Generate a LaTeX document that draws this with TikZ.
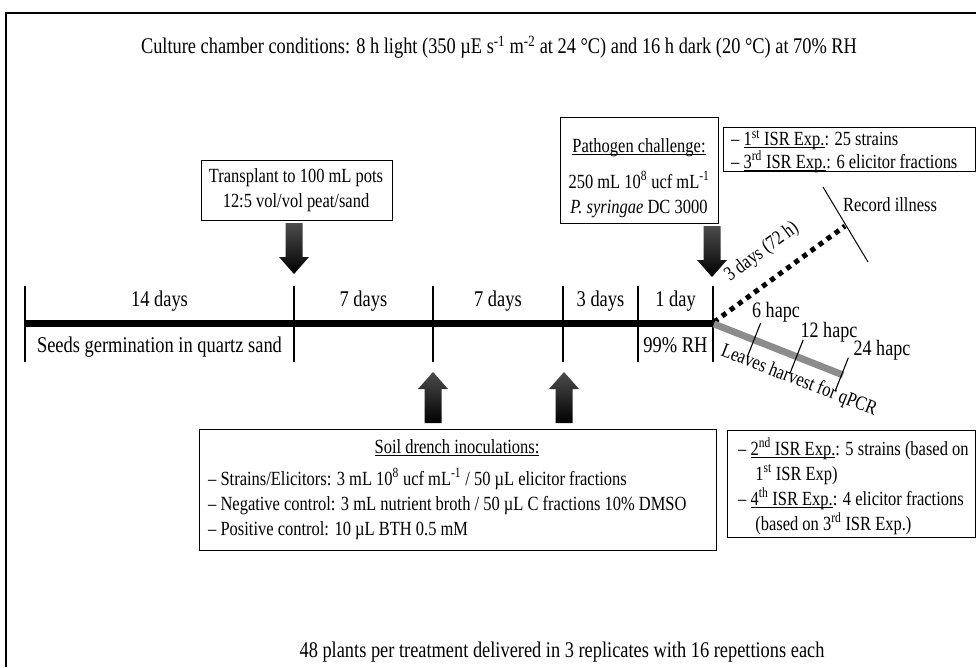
\documentclass[tikz,border=0pt]{standalone}
\usepackage{fontspec}
\setmainfont[FakeStretch=0.82]{Liberation Serif}
\usetikzlibrary{calc}
\newcommand\myul[1]{\setbox0\hbox{#1}\rlap{\rule[-2.3pt]{\wd0}{0.8pt}}\box0}
\begin{document}
\begin{tikzpicture}[x=1pt,y=-1pt,
  every node/.style={inner sep=0pt},
  big/.style={font=\fontsize{22.4}{26}\selectfont},
  lab/.style={font=\fontsize{22.5}{26}\selectfont},
  small/.style={font=\fontsize{20.1}{25}\selectfont},
  tickline/.style={line width=1.1pt},
  boxline/.style={draw, line width=1pt},
  blockarrow/.pic={\shade[top color=black!70, bottom color=black] (-8.5,-34) -- (8.5,-34) -- (8.5,0) -- (15,0) -- (0,17) -- (-15,0) -- (-8.5,0) -- cycle;}
  ]
\useasboundingbox (0,0) rectangle (976,667);
% frame
\draw[line width=1.3pt] (6,667) -- (6,13) -- (976,13);
% title and footer
\node[big] (title) at (499,47) {Culture chamber conditions: 8 h light (350 µE s\textsuperscript{-1} m\textsuperscript{-2} at 24 °C) and 16 h dark (20 °C) at 70\% RH};
\node[big] (foot) at (562,652) {48 plants per treatment delivered in 3 replicates with 16 repettions each};
% timeline
\coordinate (t0) at (25,323);
\coordinate (t1) at (294,323);
\coordinate (t2) at (433,323);
\coordinate (t3) at (563,323);
\coordinate (t4) at (638,323);
\coordinate (t5) at (713,323);
\draw[line width=7pt] (t0) -- (t5);
\foreach \c in {t0,t1,t2,t3,t4,t5}
  \draw[tickline] ($(\c)+(0,-37)$) -- ($(\c)+(0,39)$);
\node[lab] (l1) at ($(t0)!0.5!(t1)+(0,-22)$) {14 days};
\node[lab] (l2) at ($(t1)!0.5!(t2)+(0,-22)$) {7 days};
\node[lab] (l3) at ($(t2)!0.5!(t3)+(0,-22)$) {7 days};
\node[lab] (l4) at ($(t3)!0.5!(t4)+(0,-22)$) {3 days};
\node[lab] (l5) at ($(t4)!0.5!(t5)+(0,-22)$) {1 day};
\node[lab] (seeds) at ($(t0)!0.5!(t1)+(0,24)$) {Seeds germination in quartz sand};
\node[lab] (rh) at ($(t4)!0.5!(t5)+(0,22)$) {99\% RH};
% transplant
\node[boxline, minimum width=191, minimum height=60, anchor=north west] (tp) at (201,160) {};
\node[small, align=center] (tpt) at (296,190) {Transplant to 100 mL pots\\12:5 vol/vol peat/sand};
\pic (a1) at (294,257) {blockarrow};
% pathogen
\node[boxline, minimum width=158, minimum height=106, anchor=north west] (pb) at (560,117) {};
\node[small] (pbt) at (639,148) {\myul{Pathogen challenge:}};
\node[small, align=center, anchor=north] (pbl) at (639,171) {250 mL 10\textsuperscript{8} ucf mL\textsuperscript{-1}\\\textit{P. syringae} DC 3000};
\pic (a2) at (712,260) {blockarrow};
% soil drench
\node[boxline, minimum width=517, minimum height=121, anchor=north west] (soil) at (199,429) {};
\node[small] (soilt) at (457,448) {\myul{Soil drench inoculations:}};
\node[small, align=left, anchor=north west] (soill) at (208,468) {– Strains/Elicitors: 3 mL 10\textsuperscript{8} ucf mL\textsuperscript{-1} / 50 µL elicitor fractions\\– Negative control: 3 mL nutrient broth / 50 µL C fractions 10\% DMSO\\– Positive control: 10 µL BTH 0.5 mM};
\pic[rotate=180] (a3) at (433,389) {blockarrow};
\pic[rotate=180] (a4) at (564,389) {blockarrow};
% ISR boxes
\node[boxline, minimum width=252, minimum height=44, anchor=north west] (isr1) at (723,127) {};
\node[small, align=left, anchor=north west, font=\fontsize{20.1}{19.5}\selectfont] (isr1t) at (731,130) {– \myul{1\textsuperscript{st} ISR Exp.}: 25 strains\\– \myul{3\textsuperscript{rd} ISR Exp.}: 6 elicitor fractions};
\node[boxline, minimum width=248, minimum height=107, anchor=north west] (isr2) at (727,430) {};
\node[small, align=left, anchor=north west] (isr2t) at (738,438) {– \myul{2\textsuperscript{nd} ISR Exp.}: 5 strains (based on\\\hspace*{0.85em}1\textsuperscript{st} ISR Exp)\\– \myul{4\textsuperscript{th} ISR Exp.}: 4 elicitor fractions\\\hspace*{0.85em}(based on 3\textsuperscript{rd} ISR Exp.)};
% challenge branch
\coordinate (d0) at (714,322);
\coordinate (d1) at (845,226);
\draw[line width=5pt, dash pattern=on 5pt off 5pt] (d0) -- (d1);
\coordinate (r0) at (823,187);
\coordinate (r1) at (868,262);
\draw[line width=1pt] (r0) -- (r1);
\node[small] (rec) at (890,205) {Record illness};
\node[small, rotate=36.5] (three) at (762,252) {3 days (72 h)};
% harvest branch
\coordinate (g0) at (714,324);
\coordinate (g1) at (843,375);
\draw[line width=7pt, black!45] (g0) -- (g1);
\foreach \t [count=\i] in {0.31,0.64,0.99} {
  \coordinate (h\i) at ($(g0)!\t!(g1)$);
  \draw[tickline] ($(h\i)!18pt!90:(g1)$) -- ($(h\i)!18pt!-90:(g1)$);
}
\node[lab, font=\fontsize{22}{26}\selectfont] (p6) at (776,312) {6 hapc};
\node[lab, font=\fontsize{22}{26}\selectfont] (p12) at (829,332) {12 hapc};
\node[lab, font=\fontsize{22}{26}\selectfont] (p24) at (882,350) {24 hapc};
\node[small, rotate=-21.3] (leaves) at (799,381) {Leaves harvest for qPCR};
\end{tikzpicture}
\end{document}
